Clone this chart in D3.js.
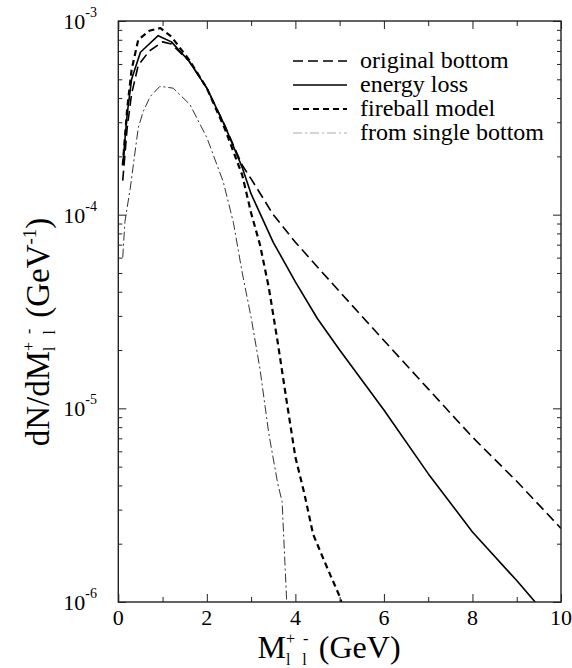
<!DOCTYPE html>
<html>
<head>
<meta charset="utf-8">
<script src="https://cdn.jsdelivr.net/npm/d3@7/dist/d3.min.js"></script>
<style>
  html, body { margin: 0; padding: 0; background: #fff; }
</style>
</head>
<body>
<svg id="chart" width="572" height="668"></svg>
<script>
// Dilepton invariant-mass spectra from bottom decays (log scale)
const originalBottomX = [0.1, 0.2, 0.3, 0.45, 0.7, 1.0, 1.2, 1.6, 2.0, 2.4, 2.8, 3.0, 3.5, 4.0, 5.0, 6.0, 7.0, 8.0, 9.0, 10.0];
const originalBottomY = [1.5e-4, 2.8e-4, 4.2e-4, 5.9e-4, 7.0e-4, 7.8e-4, 7.6e-4, 6.2e-4, 4.5e-4, 2.9e-4, 1.8e-4, 1.53e-4, 1.0e-4, 7.2e-5, 4.0e-5, 2.24e-5, 1.26e-5, 7.1e-6, 4.2e-6, 2.4e-6];

const energyLossX = [0.1, 0.2, 0.3, 0.5, 0.9, 1.2, 1.6, 2.0, 2.4, 2.8, 3.0, 3.5, 4.0, 4.5, 5.0, 6.0, 7.0, 8.0, 9.0, 9.5];
const energyLossY = [1.8e-4, 3.3e-4, 5.0e-4, 6.9e-4, 8.4e-4, 7.8e-4, 6.2e-4, 4.5e-4, 2.9e-4, 1.75e-4, 1.28e-4, 7.2e-5, 4.5e-5, 2.9e-5, 2.0e-5, 9.8e-6, 4.6e-6, 2.3e-6, 1.29e-6, 9.5e-7];

const fireballX = [0.1, 0.2, 0.3, 0.45, 0.7, 0.95, 1.2, 1.6, 2.0, 2.4, 2.8, 3.0, 3.2, 3.4, 3.6, 3.8, 4.0, 4.2, 4.4, 4.6, 4.8, 5.0, 5.1];
const fireballY = [1.8e-4, 3.5e-4, 5.6e-4, 8.0e-4, 8.9e-4, 9.2e-4, 8.3e-4, 6.3e-4, 4.5e-4, 2.8e-4, 1.6e-4, 1.02e-4, 7.0e-5, 4.2e-5, 2.2e-5, 1.1e-5, 5.6e-6, 3.65e-6, 2.24e-6, 1.74e-6, 1.36e-6, 1.07e-6, 9.0e-7];

const singleBottomX = [0.1, 0.15, 0.27, 0.45, 0.56, 0.72, 0.94, 1.24, 1.62, 2.0, 2.37, 2.6, 2.8, 3.0, 3.2, 3.4, 3.6, 3.7, 3.8, 3.84];
const singleBottomY = [6.0e-5, 9.2e-5, 1.37e-4, 2.8e-4, 3.4e-4, 4.07e-4, 4.6e-4, 4.5e-4, 3.7e-4, 2.5e-4, 1.48e-4, 9.1e-5, 5.0e-5, 2.95e-5, 1.6e-5, 7.4e-6, 4.1e-6, 3.3e-6, 1.05e-6, 8.0e-7];

const seriesNames = ["original bottom", "energy loss", "fireball model", "from single bottom"];
const xTickValues = [0, 2, 4, 6, 8, 10];
const yTickExponents = [-3, -4, -5, -6];

const svg = d3.select("#chart");
const plotLeft = 118.3, plotRight = 561, plotTop = 21, plotBottom = 602;
const serif = "'Liberation Serif', 'Times New Roman', Times, Tinos, 'Nimbus Roman', 'DejaVu Serif', 'Noto Serif', serif";

const x = d3.scaleLinear().domain([0, 10]).range([plotLeft, plotRight]);
const y = d3.scaleLog().domain([1e-6, 1e-3]).range([plotBottom, plotTop]);

const styles = [
  { stroke: "#000", width: 1.6, dash: "10,5" },
  { stroke: "#000", width: 1.6, dash: null },
  { stroke: "#000", width: 2.2, dash: "6,4" },
  { stroke: "#333", width: 1.0, dash: "9,3,2,3" }
];
const legendColours = ["#000", "#000", "#000", "#aaa"];

const series = [
  originalBottomX.map((v, i) => [v, originalBottomY[i]]),
  energyLossX.map((v, i) => [v, energyLossY[i]]),
  fireballX.map((v, i) => [v, fireballY[i]]),
  singleBottomX.map((v, i) => [v, singleBottomY[i]])
];

svg.append("defs").append("clipPath").attr("id", "plotClip")
  .append("rect").attr("x", plotLeft).attr("y", plotTop)
  .attr("width", plotRight - plotLeft).attr("height", plotBottom - plotTop);

const line = d3.line().x(d => x(d[0])).y(d => y(d[1]));

const curves = svg.append("g").attr("clip-path", "url(#plotClip)");
series.forEach((s, i) => {
  curves.append("path")
    .attr("d", line(s))
    .attr("fill", "none")
    .attr("stroke", styles[i].stroke)
    .attr("stroke-width", styles[i].width)
    .attr("stroke-dasharray", styles[i].dash)
    .attr("stroke-linejoin", "round");
});

// Minor tick values for the log axis
const minorY = [];
for (let e = -6; e < -3; e++) {
  for (let m = 2; m <= 9; m++) minorY.push(m * Math.pow(10, e));
}
const minorX = [1, 3, 5, 7, 9];

function styleAxis(g) {
  g.select(".domain").remove();
  g.selectAll("line").attr("stroke", "#222").attr("stroke-width", 1);
}

// Left and right axes (ticks pointing inward)
const majorY = yTickExponents.map(e => Math.pow(10, e));
svg.append("g").attr("transform", `translate(${plotLeft},0)`)
  .call(d3.axisLeft(y).tickValues(majorY).tickSize(-8).tickFormat(""))
  .call(styleAxis);
svg.append("g").attr("transform", `translate(${plotLeft},0)`)
  .call(d3.axisLeft(y).tickValues(minorY).tickSize(-4).tickFormat(""))
  .call(styleAxis);
svg.append("g").attr("transform", `translate(${plotRight},0)`)
  .call(d3.axisRight(y).tickValues(majorY).tickSize(-8).tickFormat(""))
  .call(styleAxis);
svg.append("g").attr("transform", `translate(${plotRight},0)`)
  .call(d3.axisRight(y).tickValues(minorY).tickSize(-4).tickFormat(""))
  .call(styleAxis);

// Bottom and top axes
svg.append("g").attr("transform", `translate(0,${plotBottom})`)
  .call(d3.axisBottom(x).tickValues(xTickValues).tickSize(-8).tickFormat(""))
  .call(styleAxis);
svg.append("g").attr("transform", `translate(0,${plotBottom})`)
  .call(d3.axisBottom(x).tickValues(minorX).tickSize(-5).tickFormat(""))
  .call(styleAxis);
svg.append("g").attr("transform", `translate(0,${plotTop})`)
  .call(d3.axisTop(x).tickValues(xTickValues).tickSize(-8).tickFormat(""))
  .call(styleAxis);
svg.append("g").attr("transform", `translate(0,${plotTop})`)
  .call(d3.axisTop(x).tickValues(minorX).tickSize(-5).tickFormat(""))
  .call(styleAxis);

// Frame
svg.append("rect")
  .attr("x", plotLeft).attr("y", plotTop)
  .attr("width", plotRight - plotLeft).attr("height", plotBottom - plotTop)
  .attr("fill", "none").attr("stroke", "#222").attr("stroke-width", 1.4);

// Tick labels
svg.append("g").selectAll("text").data(xTickValues).join("text")
  .attr("x", d => x(d)).attr("y", plotBottom + 23)
  .attr("text-anchor", "middle").attr("font-size", 22).style("font-family", serif).attr("fill", "#000")
  .text(d => d);

const yLabels = svg.append("g").selectAll("text").data(yTickExponents).join("text")
  .attr("x", 97).attr("y", d => y(Math.pow(10, d)) + 8)
  .attr("text-anchor", "end").attr("font-size", 22).style("font-family", serif).attr("fill", "#000");
yLabels.append("tspan").text("10");
yLabels.append("tspan").attr("dy", -12).attr("font-size", 14).text(d => String(d));

// Rich label helper: pieces laid out left to right; a part marked
// "stack" shares the starting x of the part before it
function richText(g, parts) {
  let cx = 0, prevX = 0;
  parts.forEach(p => {
    const px = p.stack ? prevX : cx;
    const t = g.append("text")
      .attr("x", px).attr("y", p.dy || 0)
      .attr("font-size", p.size).style("font-family", serif).attr("fill", "#000")
      .attr("letter-spacing", p.ls || 0)
      .style("white-space", "pre")
      .text(p.t);
    const w = t.node().getComputedTextLength();
    cx = p.stack ? Math.max(cx, px + w) : px + w;
    prevX = px;
  });
  return cx;
}

// X axis title
const xt = svg.append("g");
const xw = richText(xt, [
  { t: "M", size: 32 },
  { t: "+ -", size: 16, dy: -14, ls: 2 },
  { t: "l l", size: 16, dy: 7, ls: 4, stack: true },
  { t: " (GeV)", size: 32 }
]);
xt.attr("transform", `translate(${329 - xw / 2},658)`);

// Y axis title (rotated)
const yt = svg.append("g");
const yw = richText(yt, [
  { t: "dN/dM", size: 33 },
  { t: "+ -", size: 16, dy: -15, ls: 2 },
  { t: "l l", size: 16, dy: 6, ls: 4, stack: true },
  { t: " (GeV", size: 33 },
  { t: "-1", size: 19, dy: -13 },
  { t: ")", size: 33 }
]);
yt.attr("transform", `translate(49,${332 + yw / 2}) rotate(-90)`);

// Legend
const legend = svg.append("g");
seriesNames.forEach((name, i) => {
  const ly = 61 + i * 24;
  legend.append("line")
    .attr("x1", 293).attr("x2", 347).attr("y1", ly).attr("y2", ly)
    .attr("stroke", legendColours[i])
    .attr("stroke-width", styles[i].width)
    .attr("stroke-dasharray", styles[i].dash);
  legend.append("text")
    .attr("x", 360).attr("y", ly + 7)
    .attr("font-size", 24).style("font-family", serif).attr("fill", "#000")
    .text(name);
});
</script>
</body>
</html>
